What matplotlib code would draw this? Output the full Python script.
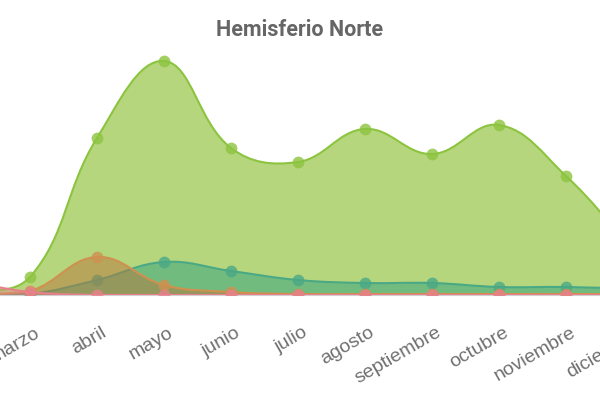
import numpy as np
import matplotlib.pyplot as plt
from matplotlib.path import Path
from matplotlib.patches import PathPatch
import matplotlib.transforms as mtransforms

meses = ['enero', 'febrero', 'marzo', 'abril', 'mayo', 'junio', 'julio',
         'agosto', 'septiembre', 'octubre', 'noviembre', 'diciembre']

# valores
verde = [1, 3, 18, 157, 234, 147, 133, 166, 141, 170, 119, 45]
turquesa = [0, 0, 1, 15, 33, 24, 15, 12, 12, 8, 8, 6]
naranja = [0, 1, 4, 38, 10, 3, 1, 1, 1, 1, 1, 1]
rosa = [20, 14, 3, 0, 0, 0, 0, 0, 0, 0, 0, 0]

# (serie, linea, relleno, alpha relleno)
estilos = [
    (verde, '#8cc43f', '#b6d67e', 1.0),
    (turquesa, '#4aa985', '#30a180', 0.5),
    (naranja, '#cf9050', '#b8763c', 0.5),
    (rosa, '#e8808c', '#e8808c', 0.4),
]

# el grafico original esta recortado: los ejes salen de la figura
XLIM = (0.955, 11.104)
YLIM = (0, 250)

fig = plt.figure(figsize=(6, 4), dpi=100)
ax = fig.add_axes([-0.0667, 0.2625, 1.1333, 0.625])
ax.set_xlim(*XLIM)
ax.set_ylim(*YLIM)

# escala en pixeles para el suavizado tipo chart.js
sx = ax.bbox.width / (XLIM[1] - XLIM[0])
sy = ax.bbox.height / (YLIM[1] - YLIM[0])


def curva(xs, ys, t=0.4):
    pts = np.column_stack([np.array(xs) * sx, np.array(ys) * sy]).astype(float)
    n = len(pts)
    prev_cp = np.zeros_like(pts)
    next_cp = np.zeros_like(pts)
    for i in range(n):
        p0 = pts[max(i - 1, 0)]
        p1 = pts[i]
        p2 = pts[min(i + 1, n - 1)]
        d01 = np.hypot(*(p1 - p0))
        d12 = np.hypot(*(p2 - p1))
        tot = d01 + d12
        s01 = d01 / tot if tot else 0
        s12 = d12 / tot if tot else 0
        prev_cp[i] = p1 - t * s01 * (p2 - p0)
        next_cp[i] = p1 + t * s12 * (p2 - p0)
    prev_cp[:, 1] = np.maximum(prev_cp[:, 1], 0)
    next_cp[:, 1] = np.maximum(next_cp[:, 1], 0)
    verts = [pts[0]]
    codes = [Path.MOVETO]
    for i in range(n - 1):
        verts += [next_cp[i], prev_cp[i + 1], pts[i + 1]]
        codes += [Path.CURVE4] * 3
    verts = np.array(verts)
    verts[:, 0] /= sx
    verts[:, 1] /= sy
    return verts, codes


x = np.arange(len(meses))
for z, (vals, c_linea, c_relleno, a) in enumerate(estilos):
    verts, codes = curva(x, vals)
    fv = np.vstack([[x[0], 0], verts, [x[-1], 0], [x[0], 0]])
    fc = [Path.MOVETO, Path.LINETO] + codes[1:] + [Path.LINETO, Path.CLOSEPOLY]
    ax.add_patch(PathPatch(Path(fv, fc), facecolor=c_relleno, alpha=a,
                           edgecolor='none', zorder=2 + z))
    ax.add_patch(PathPatch(Path(verts, codes), facecolor='none',
                           edgecolor=c_linea, lw=1.5, zorder=2.5 + z))
    ax.plot(x, vals, 'o', ms=8.5, color=c_linea, alpha=0.8,
            markeredgewidth=0, zorder=2.6 + z)

for s in ['top', 'left', 'right']:
    ax.spines[s].set_visible(False)
ax.spines['bottom'].set_color('#d0d0d0')
ax.set_yticks([])
ax.set_xticks(x)
ax.set_xticklabels(meses, rotation=30, ha='right', rotation_mode='anchor',
                   fontsize=14, color='#707070', family='Liberation Sans')
ax.tick_params(axis='x', length=0, pad=21)
off = mtransforms.ScaledTranslation(4 / 100, 0, fig.dpi_scale_trans)
for lab in ax.get_xticklabels():
    lab.set_transform(lab.get_transform() + off)

# set_xticks amplia los limites: se fijan de nuevo al final
ax.set_xlim(*XLIM)
ax.set_ylim(*YLIM)

fig.text(0.5, 0.925, 'Hemisferio Norte', ha='center', va='center',
         fontsize=15.5, fontweight='bold', color='#666666', family='Roboto')

fig.savefig('out.png', dpi=100)
